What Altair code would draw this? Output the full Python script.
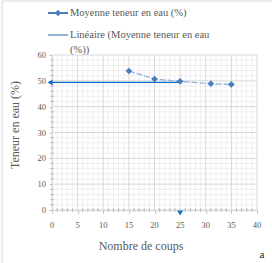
import altair as alt
import pandas as pd

coups = [15, 20, 25, 31, 35]
teneur = [53.8, 50.7, 49.8, 48.9, 48.6]
lin_x = [0, 25]
lin_y = [49.4, 49.4]
legend_labels = ["Moyenne teneur en eau (%)", "Linéaire (Moyenne teneur en eau", "(%))"]
x_ticks = [0, 5, 10, 15, 20, 25, 30, 35, 40]
y_ticks = [0, 10, 20, 30, 40, 50, 60]
x_minor = [v for v in range(0, 41) if v % 5]
y_minor = [v for v in range(0, 61, 2) if v % 10]

FONT = "Liberation Serif"
GREY = "#595959"
BLUE = "#4a7ebb"
BRIGHT = "#0f6fc6"

df = pd.DataFrame({"x": coups, "y": teneur})
dl = pd.DataFrame({"x": lin_x, "y": lin_y})
one = pd.DataFrame({"k": [0]})

xs = alt.Scale(domain=[0, 40], nice=False, zero=False)
ys = alt.Scale(domain=[0, 60], nice=False, zero=False)
xaxis = alt.Axis(values=x_ticks, title=None, grid=False, labels=False)
yaxis = alt.Axis(values=y_ticks, title=None, grid=False, labels=False)

base = alt.Chart(df)
series_line = base.mark_line(color="#8fb0d8", strokeWidth=1.2, strokeDash=[6, 2]).encode(
    x=alt.X("x:Q", scale=xs, axis=xaxis), y=alt.Y("y:Q", scale=ys, axis=yaxis)
)
xmin_g = alt.Chart(pd.DataFrame({"v": x_minor})).mark_rule(color="#efefef", strokeWidth=1).encode(
    x=alt.X("v:Q", scale=xs, axis=xaxis), y=alt.value(0), y2=alt.value(155))
ymin_g = alt.Chart(pd.DataFrame({"v": y_minor})).mark_rule(color="#efefef", strokeWidth=1).encode(
    y=alt.Y("v:Q", scale=ys, axis=yaxis), x=alt.value(0), x2=alt.value(205))
xmaj_g = alt.Chart(pd.DataFrame({"v": x_ticks})).mark_rule(color="#d9d9d9", strokeWidth=1).encode(
    x=alt.X("v:Q", scale=xs, axis=xaxis), y=alt.value(0), y2=alt.value(155))
ymaj_g = alt.Chart(pd.DataFrame({"v": y_ticks})).mark_rule(color="#d9d9d9", strokeWidth=1).encode(
    y=alt.Y("v:Q", scale=ys, axis=yaxis), x=alt.value(0), x2=alt.value(205))
xmin_t = alt.Chart(pd.DataFrame({"v": x_minor})).mark_rule(color="#bfbfbf", strokeWidth=1).encode(
    x=alt.X("v:Q", scale=xs, axis=xaxis), y=alt.value(153), y2=alt.value(157))
ymin_t = alt.Chart(pd.DataFrame({"v": y_minor})).mark_rule(color="#bfbfbf", strokeWidth=1).encode(
    y=alt.Y("v:Q", scale=ys, axis=yaxis), x=alt.value(-2), x2=alt.value(2))

xlab = alt.Chart(pd.DataFrame({"v": x_ticks})).mark_text(
    font=FONT, fontSize=8.5, color=GREY, baseline="middle", align="center").encode(
    x=alt.X("v:Q", scale=xs, axis=xaxis), y=alt.value(170), text="v:Q")
ylab = alt.Chart(pd.DataFrame({"v": y_ticks})).mark_text(
    font=FONT, fontSize=8.5, color=GREY, baseline="middle", align="right").encode(
    y=alt.Y("v:Q", scale=ys, axis=yaxis), x=alt.value(-6), text="v:Q")

series_pts = base.mark_point(shape="diamond", filled=True, size=45, color=BLUE, opacity=1).encode(
    x=alt.X("x:Q", scale=xs, axis=xaxis), y=alt.Y("y:Q", scale=ys, axis=yaxis)
)
hline = alt.Chart(dl).mark_line(color=BRIGHT, strokeWidth=1.2).encode(
    x=alt.X("x:Q", scale=xs, axis=xaxis), y=alt.Y("y:Q", scale=ys, axis=yaxis)
)
left_arrow = alt.Chart(dl.iloc[[0]]).mark_point(shape="triangle-left", filled=True, size=35, color=BRIGHT, opacity=1, clip=False).encode(
    x=alt.X("x:Q", scale=xs, axis=xaxis), y=alt.Y("y:Q", scale=ys, axis=yaxis), xOffset=alt.value(-2)
)
down_arrow = alt.Chart(dl.iloc[[1]]).mark_point(shape="triangle-down", filled=True, size=35, color=BRIGHT, opacity=1, clip=False).encode(
    x=alt.X("x:Q", scale=xs, axis=xaxis), y=alt.value(158)
)

def txt(s, x, y, size=12, color=GREY, align="left", angle=0):
    return alt.Chart(one).mark_text(
        text=s, font=FONT, fontSize=size, color=color, baseline="middle", align=align, angle=angle
    ).encode(x=alt.value(x), y=alt.value(y))

leg1 = txt(legend_labels[0], 18, -42, size=10.5)
leg2 = txt(legend_labels[1], 18, -20, size=10.5)
leg3 = txt(legend_labels[2], 18, -5, size=10.5)
leg_line1 = alt.Chart(one).mark_rule(color=BLUE, strokeWidth=2).encode(
    x=alt.value(-4), x2=alt.value(16), y=alt.value(-42))
leg_dia = alt.Chart(one).mark_point(shape="diamond", filled=True, size=40, color=BLUE, opacity=1).encode(
    x=alt.value(6), y=alt.value(-42))
leg_line2 = alt.Chart(one).mark_rule(color=BLUE, strokeWidth=1.2).encode(
    x=alt.value(-4), x2=alt.value(16), y=alt.value(-20))

ytitle = txt("Teneur en eau (%)", -37, 70, size=12, align="center", angle=270)
xtitle = txt("Nombre de coups", 89, 191, size=12, align="center")
alabel = txt("a", 210, 200, size=11, color="#222222", align="center")
frame_l = alt.Chart(one).mark_rule(color="#d9d9d9", strokeWidth=1).encode(
    x=alt.value(-50), y=alt.value(-54), y2=alt.value(208))
frame_t = alt.Chart(one).mark_rule(color="#d9d9d9", strokeWidth=1).encode(
    x=alt.value(-50), x2=alt.value(220), y=alt.value(-54))

chart = alt.layer(
    xmin_g, ymin_g, xmaj_g, ymaj_g, xmin_t, ymin_t,
    series_line, hline, series_pts, left_arrow, down_arrow, xlab, ylab,
    leg_line1, leg_dia, leg_line2, leg1, leg2, leg3, ytitle, xtitle, alabel, frame_l, frame_t
).properties(
    width=205, height=155,
    padding={"left": 52, "top": 55, "right": 15, "bottom": 53},
    autosize=alt.AutoSizeParams(type="none"),
).configure_view(stroke=None).configure_axis(
    tickColor="#bfbfbf", tickSize=3, domainColor="#d0d0d0", grid=False,
)

chart.save("out.html", embed_options={"renderer": "svg", "actions": False})
